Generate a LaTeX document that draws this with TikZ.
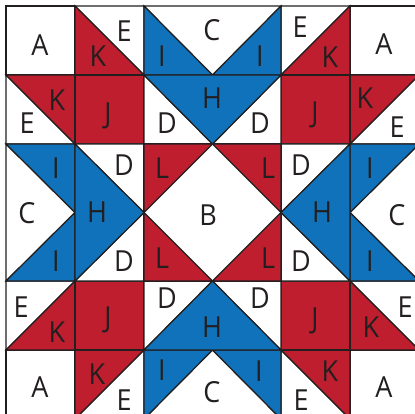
\documentclass[tikz,border=0pt]{standalone}
\usepackage{fontspec}
\setmainfont[FakeStretch=0.93]{Open Sans}
\definecolor{qred}{HTML}{BE1E2D}
\definecolor{qblue}{HTML}{1072BA}
\definecolor{qink}{HTML}{231F20}
\tikzset{
  patch/.style={draw=qink,line width=1.2pt,line join=miter},
  rp/.style={patch,fill=qred},
  bp/.style={patch,fill=qblue},
  wp/.style={patch,fill=white},
  lab/.style={text=qink,inner sep=0pt,anchor=base,font=\fontsize{29}{29}\selectfont,yshift=-10.4pt}
}
\begin{document}
\begin{tikzpicture}[x=1pt,y=-1pt]
\useasboundingbox (0,0) rectangle (415,414);
\fill[white] (0,0) rectangle (415,414);
\begin{scope}
\clip (0,0) rectangle (415,414);
% corner squares
\draw[wp] (6,6) rectangle (75,75);
\draw[wp] (350,6) rectangle (419,75);
\draw[wp] (6,350) rectangle (75,419);
\draw[wp] (350,350) rectangle (419,419);
% top-left block
\draw[wp] (75,6) -- (144,6) -- (144,75) -- cycle;
\draw[rp] (75,6) -- (144,75) -- (75,75) -- cycle;
\draw[wp] (6,75) -- (6,144) -- (75,144) -- cycle;
\draw[rp] (6,75) -- (75,75) -- (75,144) -- cycle;
\draw[rp] (75,75) rectangle (144,144);
% top-right block
\draw[wp] (281,6) -- (350,6) -- (281,75) -- cycle;
\draw[rp] (350,6) -- (350,75) -- (281,75) -- cycle;
\draw[wp] (419,75) -- (419,144) -- (350,144) -- cycle;
\draw[rp] (350,75) -- (419,75) -- (350,144) -- cycle;
\draw[rp] (281,75) rectangle (350,144);
% bottom-left block
\draw[wp] (6,281) -- (75,281) -- (6,350) -- cycle;
\draw[rp] (75,281) -- (75,350) -- (6,350) -- cycle;
\draw[wp] (144,350) -- (144,419) -- (75,419) -- cycle;
\draw[rp] (75,350) -- (144,350) -- (75,419) -- cycle;
\draw[rp] (75,281) rectangle (144,350);
% bottom-right block
\draw[wp] (350,281) -- (419,281) -- (419,350) -- cycle;
\draw[rp] (350,281) -- (419,350) -- (350,350) -- cycle;
\draw[wp] (281,350) -- (281,419) -- (350,419) -- cycle;
\draw[rp] (281,350) -- (350,350) -- (350,419) -- cycle;
\draw[rp] (281,281) rectangle (350,350);
% top star point
\draw[wp] (144,6) -- (281,6) -- (212.5,75) -- cycle;
\draw[bp] (144,6) -- (212.5,75) -- (144,75) -- cycle;
\draw[bp] (281,6) -- (281,75) -- (212.5,75) -- cycle;
\draw[wp] (144,75) -- (212.5,144) -- (144,144) -- cycle;
\draw[wp] (281,75) -- (281,144) -- (212.5,144) -- cycle;
\draw[bp] (144,75) -- (281,75) -- (212.5,144) -- cycle;
% bottom star point
\draw[wp] (144,419) -- (281,419) -- (212.5,350) -- cycle;
\draw[bp] (144,350) -- (212.5,350) -- (144,419) -- cycle;
\draw[bp] (281,350) -- (281,419) -- (212.5,350) -- cycle;
\draw[wp] (144,281) -- (212.5,281) -- (144,350) -- cycle;
\draw[wp] (281,281) -- (281,350) -- (212.5,281) -- cycle;
\draw[bp] (144,350) -- (212.5,281) -- (281,350) -- cycle;
% left star point
\draw[wp] (6,144) -- (75,212.5) -- (6,281) -- cycle;
\draw[bp] (6,144) -- (75,144) -- (75,212.5) -- cycle;
\draw[bp] (75,212.5) -- (75,281) -- (6,281) -- cycle;
\draw[wp] (75,144) -- (144,144) -- (144,212.5) -- cycle;
\draw[wp] (75,281) -- (144,281) -- (144,212.5) -- cycle;
\draw[bp] (75,144) -- (144,212.5) -- (75,281) -- cycle;
% right star point
\draw[wp] (419,144) -- (350,212.5) -- (419,281) -- cycle;
\draw[bp] (350,144) -- (419,144) -- (350,212.5) -- cycle;
\draw[bp] (350,212.5) -- (419,281) -- (350,281) -- cycle;
\draw[wp] (281,144) -- (350,144) -- (281,212.5) -- cycle;
\draw[wp] (281,281) -- (350,281) -- (281,212.5) -- cycle;
\draw[bp] (350,144) -- (350,281) -- (281,212.5) -- cycle;
% centre
\draw[wp] (144,144) rectangle (281,281);
\draw[rp] (144,144) -- (212.5,144) -- (144,212.5) -- cycle;
\draw[rp] (212.5,144) -- (281,144) -- (281,212.5) -- cycle;
\draw[rp] (144,212.5) -- (212.5,281) -- (144,281) -- cycle;
\draw[rp] (281,212.5) -- (281,281) -- (212.5,281) -- cycle;
\end{scope}
% labels
\foreach \t/\x/\y in {
 A/40/45, E/124/31, K/98/56, K/57/100, E/27/123, J/108/113,
 C/212/30, I/162/56, I/260/56, H/212/98, D/167/123, D/260/123,
 E/300/27, K/330/57, A/384/44, K/365/98, E/397/127, J/315/112,
 I/56/168, D/124/165, L/162/168, L/268/168, D/301/165, I/370/168,
 C/27/213, H/97/212, B/208/215, H/322/212, C/397/215,
 I/56/261, D/124/261, L/162/258, L/268/258, D/301/261, I/370/261,
 E/21/307, K/57/332, J/108/317, D/167/298, H/212/327, D/260/298, J/315/318, K/371/327, E/405/307,
 K/97/374, E/124/400, A/40/387, I/162/370, C/212/392, I/259/371, E/301/400, K/330/371, A/384/387}
 \node[lab] at (\x,\y) {\t};
\end{tikzpicture}
\end{document}
